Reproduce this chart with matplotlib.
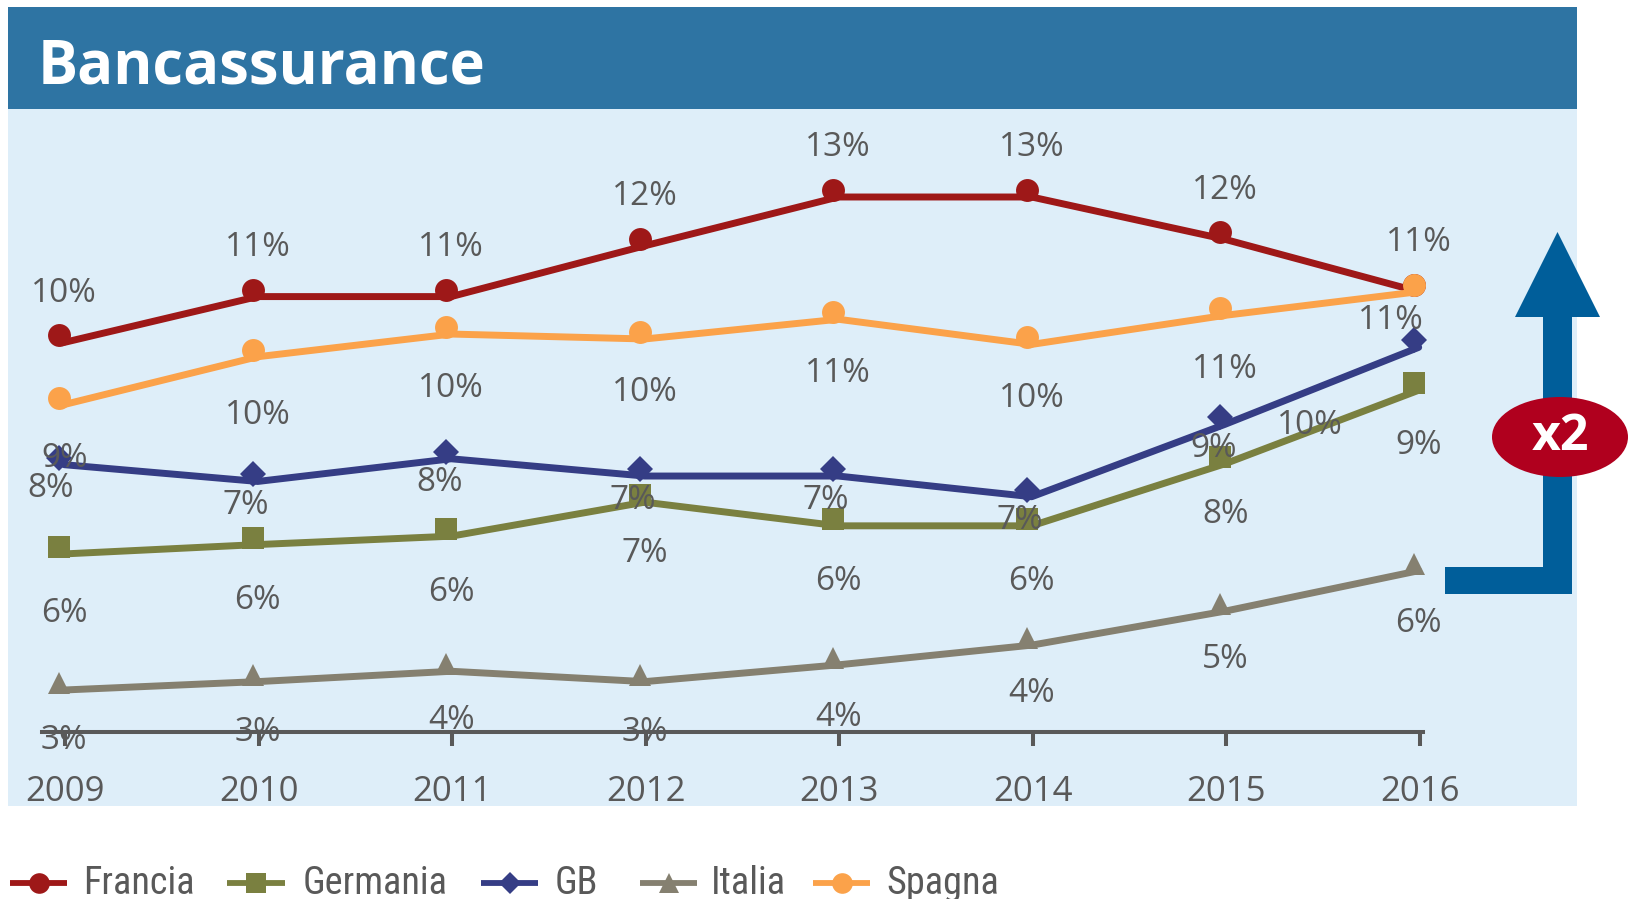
import matplotlib
matplotlib.use('Agg')
import matplotlib.pyplot as plt
from matplotlib.patches import Rectangle, Polygon, Ellipse
from matplotlib.transforms import ScaledTranslation

# ---------------- data ----------------
years = [2009, 2010, 2011, 2012, 2013, 2014, 2015, 2016]
series_names = ['Francia', 'Germania', 'GB', 'Italia', 'Spagna']

francia = [10.05, 10.98, 10.98, 12.01, 13.0, 13.0, 12.14, 11.08]
germania = [5.76, 5.95, 6.12, 6.81, 6.33, 6.33, 7.59, 9.08]
gb = [7.57, 7.23, 7.69, 7.34, 7.34, 6.92, 8.39, 9.95]
italia = [3.0, 3.17, 3.38, 3.17, 3.51, 3.91, 4.6, 5.42]
spagna = [8.79, 9.76, 10.22, 10.12, 10.52, 10.01, 10.6, 11.08]

francia_lbl = ['10%', '11%', '11%', '12%', '13%', '13%', '12%', '11%']
germania_lbl = ['6%', '6%', '6%', '7%', '6%', '6%', '8%', '9%']
gb_lbl = ['8%', '7%', '8%', '7%', '7%', '7%', '9%', '10%']
italia_lbl = ['3%', '3%', '4%', '3%', '4%', '4%', '5%', '6%']
spagna_lbl = ['9%', '10%', '10%', '10%', '11%', '10%', '11%', '11%']

title = 'Bancassurance'
badge = 'x2'

# ---------------- style ----------------
colors = ['#9E1818', '#7A8040', '#353D85', '#858070', '#FBA24A']
markers = ['o', 's', 'D', '^', 'o']
msizes = [16.5, 16, 13, 16, 16.5]
TXT = '#595959'
FONT = ['Open Sans', 'DejaVu Sans']
NARROW = ['Liberation Sans Narrow', 'Roboto Condensed', 'Liberation Sans', 'DejaVu Sans']

# label offsets in pixels (dx, dy; dy positive = downward)
off_francia = [(5, -42)] * 8
off_germania = [(5, d) for d in [67, 63, 63, 58, 63, 63, 58, 62]]
off_gb = [(-9, 31)] + [(-7, 31)] * 6 + [(-104, 85)]
off_italia = [(5, d) for d in [58, 58, 56, 58, 60, 55, 55, 60]]
off_spagna = [(5, 61), (5, 66)] + [(5, 61)] * 5 + [(-23, 36)]

W, H = 1628, 899
fig = plt.figure(figsize=(W / 100, H / 100), dpi=100)

# background layer (pixel coordinates)
bg = fig.add_axes([0, 0, 1, 1])
bg.set_xlim(0, W)
bg.set_ylim(H, 0)
bg.axis('off')
bg.add_patch(Rectangle((8, 7), 1569, 102, color='#2E74A3', lw=0))
bg.add_patch(Rectangle((8, 109), 1569, 697, color='#DEEEF9', lw=0))
bg.text(38, 83, title, fontsize=43, fontweight='bold', color='white',
        family=FONT, va='baseline', ha='left')

# main chart axes
ax = fig.add_axes([8 / W, 1 - 806 / H, 1569 / W, 697 / H])
ax.patch.set_alpha(0)
ax.set_xlim(2008.7354, 2016.844)
ax.set_ylim(0.505, 14.643)
for s in ['top', 'left', 'right']:
    ax.spines[s].set_visible(False)
ax.spines['bottom'].set_position(('data', 2))
ax.spines['bottom'].set_bounds(2008.91, 2016.05)
ax.spines['bottom'].set_linewidth(2.9)
ax.spines['bottom'].set_color(TXT)
ax.set_yticks([])
ax.set_xticks(years)
ax.set_xticklabels([str(y) for y in years], family=FONT)
ax.tick_params(axis='x', length=10, width=2.9, color=TXT, pad=21,
               labelsize=25, labelcolor=TXT)
shift = ScaledTranslation(6 / 100, 0, fig.dpi_scale_trans)
for lab in ax.get_xticklabels():
    lab.set_transform(lab.get_transform() + shift)
for tl in ax.xaxis.get_ticklines():
    tl.set_transform(tl.get_transform() + shift)

all_vals = [francia, germania, gb, italia, spagna]
all_lbls = [francia_lbl, germania_lbl, gb_lbl, italia_lbl, spagna_lbl]
all_offs = [off_francia, off_germania, off_gb, off_italia, off_spagna]

line_shift = ax.transData + ScaledTranslation(5 / 100, -7 / 100, fig.dpi_scale_trans)
for i, (vals, name) in enumerate(zip(all_vals, series_names)):
    ax.plot(years, vals, color=colors[i], lw=5.0, solid_joinstyle='round',
            solid_capstyle='round', zorder=3 + 2 * i, transform=line_shift)
    ax.plot(years, vals, color=colors[i], lw=0, marker=markers[i],
            markersize=msizes[i], markeredgewidth=0, zorder=4 + 2 * i,
            label=name)

for vals, lbls, offs in zip(all_vals, all_lbls, all_offs):
    for x, v, t, (dx, dy) in zip(years, vals, lbls, offs):
        ax.annotate(t, (x, v), xytext=(dx, -dy), textcoords='offset pixels',
                    ha='center', va='center', fontsize=24, color=TXT,
                    family=FONT, zorder=20)

# overlay: arrow, badge, legend
ov = fig.add_axes([0, 0, 1, 1], zorder=10)
ov.set_xlim(0, W)
ov.set_ylim(H, 0)
ov.axis('off')
ov.patch.set_alpha(0)
AC = '#005E9A'
ov.add_patch(Rectangle((1543, 313), 29, 281, color=AC, lw=0))
ov.add_patch(Rectangle((1445, 567), 127, 27, color=AC, lw=0))
ov.add_patch(Polygon([(1515, 317), (1600, 317), (1557.5, 232)], closed=True,
                     color=AC, lw=0))
ov.add_patch(Ellipse((1560, 437), 136, 80, color='#B0001E', lw=0))
ov.text(1560, 437, badge, fontsize=36, fontweight='bold', color='white',
        family=FONT, ha='center', va='center')

leg_line_x = [(10, 67), (227, 285), (481, 538), (640, 697), (813, 870)]
leg_text_x = [83, 303, 555, 711, 886]
leg_y = 883
for i, name in enumerate(series_names):
    x0, x1 = leg_line_x[i]
    ov.plot([x0, x1], [leg_y, leg_y], color=colors[i], lw=4.2,
            solid_capstyle='butt')
    ov.plot([(x0 + x1) / 2], [leg_y], marker=markers[i], color=colors[i],
            markersize=msizes[i] * 0.9, markeredgewidth=0)
    ov.text(leg_text_x[i], leg_y, name, fontsize=27.5, color=TXT,
            family=NARROW, ha='left', va='center')

fig.savefig('out.png', dpi=100)
